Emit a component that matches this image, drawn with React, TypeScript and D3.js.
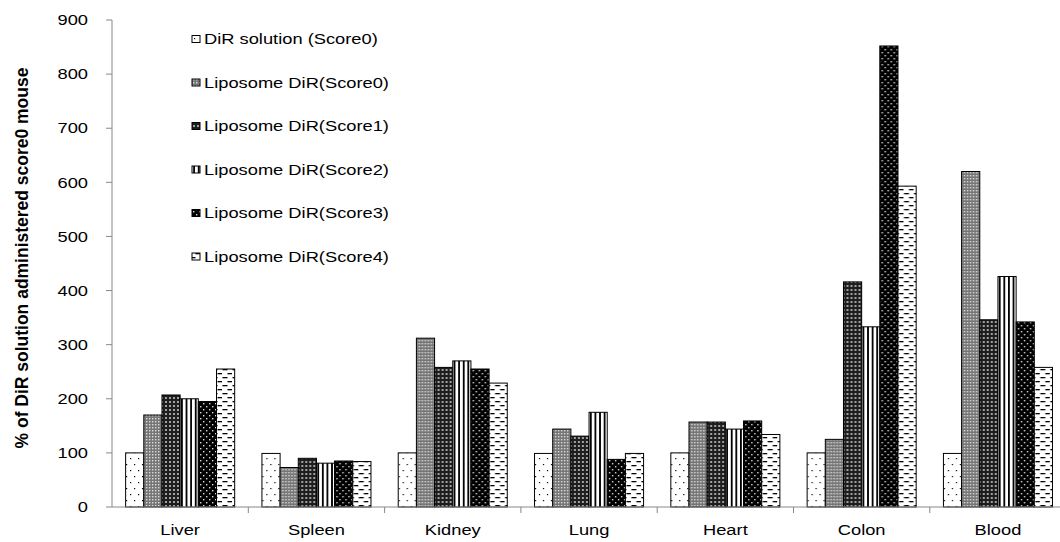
import React from "react";
import * as d3 from "d3";

const categories = ["Liver", "Spleen", "Kidney", "Lung", "Heart", "Colon", "Blood"];
const seriesNames = [
  "DiR solution (Score0)",
  "Liposome DiR(Score0)",
  "Liposome DiR(Score1)",
  "Liposome DiR(Score2)",
  "Liposome DiR(Score3)",
  "Liposome DiR(Score4)",
];
const dirSolution = [100, 99, 100, 99, 100, 100, 99];
const lipoScore0 = [170, 73, 312, 144, 157, 125, 620];
const lipoScore1 = [207, 90, 258, 131, 157, 416, 346];
const lipoScore2 = [200, 81, 270, 175, 144, 333, 426];
const lipoScore3 = [195, 85, 255, 88, 159, 852, 342];
const lipoScore4 = [255, 84, 229, 99, 134, 593, 258];
const seriesValues = [dirSolution, lipoScore0, lipoScore1, lipoScore2, lipoScore3, lipoScore4];
const yTicks = [0, 100, 200, 300, 400, 500, 600, 700, 800, 900];

const W = 1060;
const H = 542;
const left = 112;
const bandW = 136.3;
const top = 20;
const bottom = 507;
const FONT = "'Liberation Sans', Arial, sans-serif";
const SX = 1.22;

export default function App() {
  const x0 = d3.scaleBand<string>().domain(categories).range([left, left + bandW * categories.length]).padding(0);
  const x1 = d3
    .scaleBand<string>()
    .domain(seriesNames)
    .range([0, x0.bandwidth()])
    .paddingInner(0)
    .paddingOuter(0.75);
  const y = d3.scaleLinear().domain([0, 900]).range([bottom, top]);
  const patIds = seriesNames.map((_, i) => `pat${i}`);

  return (
    <div style={{ position: "fixed", left: 0, top: 0 }}>
      <svg width={W} height={H} style={{ display: "block", background: "#fff" }}>
        <defs>
          <pattern id="pat0" patternUnits="userSpaceOnUse" width={8} height={12}>
            <rect width={8} height={12} fill="#fff" />
            <rect x={2} y={2} width={1.2} height={1.2} fill="#000" />
            <rect x={6} y={8} width={1.2} height={1.2} fill="#000" />
          </pattern>
          <pattern id="pat1" patternUnits="userSpaceOnUse" width={3} height={3}>
            <rect width={3} height={3} fill="#767676" />
            <rect x={1} y={1} width={1.4} height={1.4} fill="#dadada" />
          </pattern>
          <pattern id="pat2" patternUnits="userSpaceOnUse" width={4} height={4}>
            <rect width={4} height={4} fill="#1e1e1e" />
            <rect x={1} y={1} width={2} height={2} fill="#a0a0a0" />
          </pattern>
          <pattern id="pat3" patternUnits="userSpaceOnUse" width={4.6} height={4}>
            <rect width={4.6} height={4} fill="#fff" />
            <rect x={0} y={0} width={1.8} height={4} fill="#000" />
          </pattern>
          <pattern id="pat4" patternUnits="userSpaceOnUse" width={6} height={6}>
            <rect width={6} height={6} fill="#000" />
            <rect x={1} y={1} width={1.4} height={1.4} fill="#d8d8d8" />
            <rect x={4} y={4} width={1.4} height={1.4} fill="#d8d8d8" />
          </pattern>
          <pattern id="pat5" patternUnits="userSpaceOnUse" width={10} height={8}>
            <rect width={10} height={8} fill="#fff" />
            <rect x={0.5} y={1} width={5} height={1.3} fill="#000" />
            <rect x={5.5} y={5} width={5} height={1.3} fill="#000" />
          </pattern>
        </defs>

        {/* axes */}
        <line x1={left} x2={left} y1={top} y2={bottom} stroke="#888" strokeWidth={1} />
        {yTicks.map((t) => (
          <g key={t}>
            <line x1={left - 6} x2={left} y1={y(t)} y2={y(t)} stroke="#888" />
            <text
              transform={`translate(88,${y(t)}) scale(${SX},1)`}
              dy="0.35em"
              textAnchor="end"
              fontFamily={FONT}
              fontSize={15}
              fill="#000"
            >
              {t}
            </text>
          </g>
        ))}

        {/* bars */}
        {categories.map((c, ci) => (
          <g key={c} transform={`translate(${x0(c)},0)`}>
            {seriesNames.map((s, si) => {
              const v = seriesValues[si][ci];
              return (
                <rect
                  key={s}
                  x={x1(s)}
                  y={y(v)}
                  width={x1.bandwidth()}
                  height={bottom - y(v)}
                  fill={`url(#${patIds[si]})`}
                  stroke="#000"
                  strokeWidth={1}
                />
              );
            })}
          </g>
        ))}

        <line x1={left} x2={left + bandW * categories.length} y1={bottom} y2={bottom} stroke="#888" />
        {categories.map((c, ci) => (
          <g key={c}>
            <line
              x1={(x0(c) as number) + x0.bandwidth()}
              x2={(x0(c) as number) + x0.bandwidth()}
              y1={bottom}
              y2={bottom + 6}
              stroke="#888"
            />
            <text
              transform={`translate(${(x0(c) as number) + x0.bandwidth() / 2},530) scale(${SX},1)`}
              dy="0.35em"
              textAnchor="middle"
              fontFamily={FONT}
              fontSize={15}
              fill="#000"
            >
              {c}
            </text>
          </g>
        ))}

        {/* y title */}
        <text
          transform={`translate(21,258) rotate(-90) scale(1,1.1)`}
          textAnchor="middle"
          dy="0.35em"
          fontFamily={FONT}
          fontSize={17.5}
          fontWeight="bold"
          fill="#000"
        >
          % of DiR solution administered score0 mouse
        </text>

        {/* legend */}
        {seriesNames.map((s, i) => {
          const cy = 39 + i * 43.5;
          return (
            <g key={s}>
              <rect x={192} y={cy - 3.5} width={8} height={7} fill={`url(#${patIds[i]})`} stroke="#000" strokeWidth={1} />
              <text
                transform={`translate(204,${cy}) scale(${SX},1)`}
                dy="0.35em"
                fontFamily={FONT}
                fontSize={15}
                fill="#000"
              >
                {s}
              </text>
            </g>
          );
        })}
      </svg>
    </div>
  );
}
